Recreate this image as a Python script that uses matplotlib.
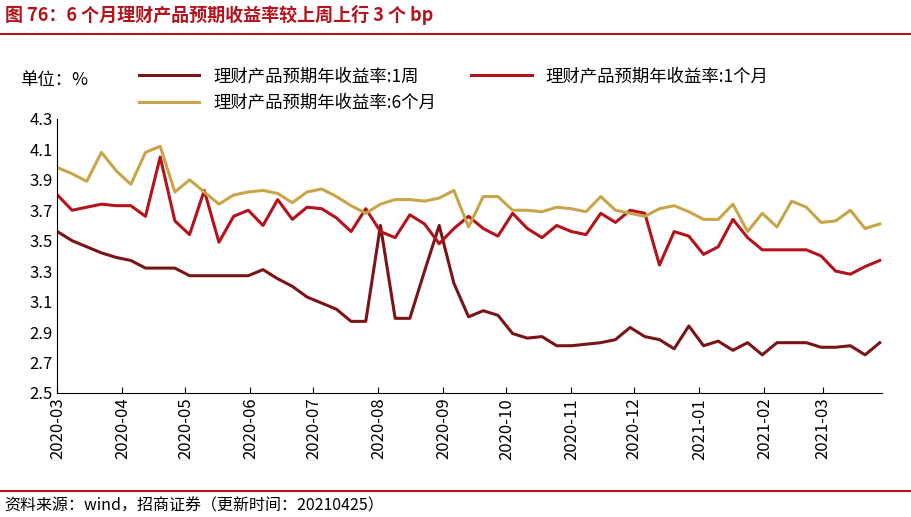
import matplotlib
matplotlib.use("Agg")
import matplotlib.pyplot as plt
import matplotlib.dates as mdates
import pandas as pd

plt.rcParams['font.family'] = ['Noto Sans CJK SC']

w1 = [3.56,3.50,3.46,3.42,3.39,3.37,3.32,3.32,3.32,3.27,
      3.27,3.27,3.27,3.27,3.31,3.25,3.20,3.13,3.09,3.05,
      2.97,2.97,3.60,2.99,2.99,3.30,3.60,3.22,3.00,3.04,
      3.01,2.89,2.86,2.87,2.81,2.81,2.82,2.83,2.85,2.93,
      2.87,2.85,2.79,2.94,2.81,2.84,2.78,2.83,2.75,2.83,
      2.83,2.83,2.80,2.80,2.81,2.75,2.83]
m1 = [3.80,3.70,3.72,3.74,3.73,3.73,3.66,4.05,3.63,3.54,
      3.83,3.49,3.66,3.70,3.60,3.77,3.64,3.72,3.71,3.65,
      3.56,3.71,3.56,3.52,3.67,3.61,3.48,3.58,3.66,3.58,
      3.53,3.68,3.58,3.52,3.60,3.56,3.54,3.68,3.62,3.70,
      3.68,3.34,3.56,3.53,3.41,3.46,3.64,3.52,3.44,3.44,
      3.44,3.44,3.40,3.30,3.28,3.33,3.37]
m6 = [3.98,3.94,3.89,4.08,3.96,3.87,4.08,4.12,3.82,3.90,
      3.82,3.74,3.80,3.82,3.83,3.81,3.75,3.82,3.84,3.79,
      3.73,3.68,3.74,3.77,3.77,3.76,3.78,3.83,3.59,3.79,
      3.79,3.70,3.70,3.69,3.72,3.71,3.69,3.79,3.70,3.68,
      3.66,3.71,3.73,3.69,3.64,3.64,3.74,3.56,3.68,3.59,
      3.76,3.72,3.62,3.63,3.70,3.58,3.61]
dates = pd.date_range("2020-03-01", periods=len(w1), freq="7D")
yticks = [2.5,2.7,2.9,3.1,3.3,3.5,3.7,3.9,4.1,4.3]

fig = plt.figure(figsize=(9.11,5.17), dpi=100)
ax = fig.add_axes([0.063, 0.24, 0.905, 0.53])
l1, = ax.plot(dates, w1, color="#7B1416", lw=2.2, label="理财产品预期年收益率:1周")
l2, = ax.plot(dates, m1, color="#B5121B", lw=2.2, label="理财产品预期年收益率:1个月")
l3, = ax.plot(dates, m6, color="#C9A54A", lw=2.2, label="理财产品预期年收益率:6个月")
ax.set_ylim(2.5, 4.3)
ax.set_yticks(yticks)
ax.set_yticklabels([f"{v:.1f}" for v in yticks], fontsize=12)
ax.set_xlim(pd.Timestamp("2020-03-01"), dates[-1] + pd.Timedelta(days=1))
ax.xaxis.set_major_locator(mdates.MonthLocator())
ax.xaxis.set_major_formatter(mdates.DateFormatter("%Y-%m"))
plt.setp(ax.get_xticklabels(), rotation=90, fontsize=12)
for s in ["top", "right"]:
    ax.spines[s].set_visible(False)
ax.tick_params(axis='x', direction='in', length=4)
ax.tick_params(axis='y', length=0)
ax.legend(handles=[l1, l3, l2], loc="lower left", bbox_to_anchor=(0.09, 1.0), ncol=2,
          frameon=False, fontsize=12.5, handlelength=3.5, columnspacing=2, borderaxespad=0)
fig.text(0.022, 0.835, "单位：%", fontsize=12.5)
fig.text(0.005, 0.96, "图 76：6 个月理财产品预期收益率较上周上行 3 个 bp", color="#B5121B",
         fontsize=13, fontweight="bold")
fig.add_artist(plt.Line2D([0, 1], [0.935, 0.935], color="#B5121B", lw=1.5))
fig.add_artist(plt.Line2D([0, 1], [0.05, 0.05], color="#B5121B", lw=1.5))
fig.text(0.005, 0.012, "资料来源：wind，招商证券（更新时间：20210425）", fontsize=11.5)
fig.savefig("out.png", dpi=100)
